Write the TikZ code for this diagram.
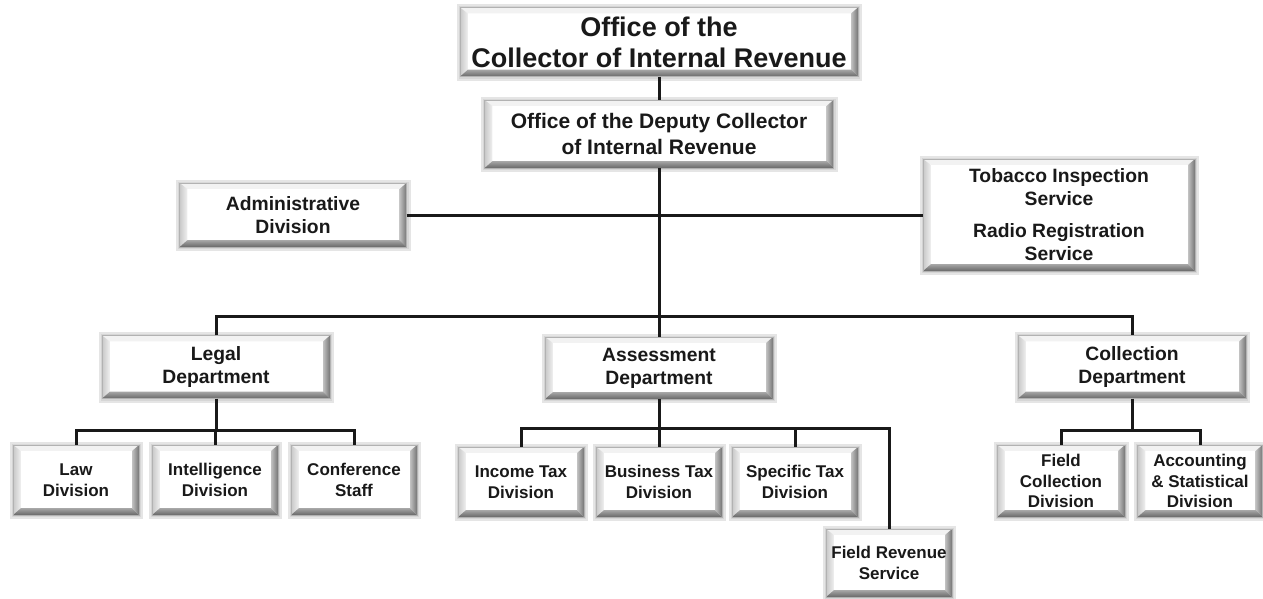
\documentclass[tikz,border=0pt]{standalone}
\usepackage{fontspec}
\setmainfont{Liberation Sans}
\usetikzlibrary{calc}
\pgfdeclarelayer{bg}
\pgfsetlayers{bg,main}
\newcommand{\bevedge}[1]{%
  \begin{pgfonlayer}{bg}
    \fill[black!10] ($(#1.north west)+(-3,-3)$) rectangle ($(#1.south east)+(4,4)$);
    \fill[black!16] ($(#1.north west)+(-1,-1)$) rectangle ($(#1.south east)+(2,2)$);
    \fill[white] (#1.north west) rectangle (#1.south east);
    \fill[black!5] (#1.north west) -- (#1.north east) -- ($(#1.north east)+(-7,6)$) -- ($(#1.north west)+(8,6)$) -- cycle;
    \shade[left color=black!22, right color=black!6] (#1.north west) -- ($(#1.north west)+(8,6)$) -- ($(#1.south west)+(8,-7)$) -- (#1.south west) -- cycle;
    \shade[left color=black!25, right color=black!55] (#1.north east) -- (#1.south east) -- ($(#1.south east)+(-7,-7)$) -- ($(#1.north east)+(-7,6)$) -- cycle;
    \shade[top color=black!35, bottom color=black!60] (#1.south west) -- (#1.south east) -- ($(#1.south east)+(-7,-7)$) -- ($(#1.south west)+(8,-7)$) -- cycle;
    \draw[black!30, line width=0.5pt] (#1.north west) rectangle (#1.south east);
  \end{pgfonlayer}
}
\begin{document}
\begin{tikzpicture}[x=1pt, y=-1pt,
  box/.style={draw=none, inner sep=0pt, align=center, text=black!90},
  ftop/.style={font=\bfseries\fontsize{27}{31}\selectfont},
  fdep/.style={font=\bfseries\fontsize{21}{26}\selectfont},
  fmid/.style={font=\bfseries\fontsize{19.3}{23}\selectfont},
  fbot/.style={font=\bfseries\fontsize{17}{20.5}\selectfont},
  conn/.style={line width=3pt, black!90}
]
\useasboundingbox (0,0) rectangle (1263,598);
\begin{pgfonlayer}{bg}
\fill[white] (0,0) rectangle (1263,598);
\end{pgfonlayer}

% nodes
\node[box, ftop, minimum width=398pt, minimum height=69pt] (top) at (659,42) {Office of the\\Collector of Internal Revenue};
\node[box, fdep, minimum width=349pt, minimum height=68pt] (dep) at (659,134) {Office of the Deputy Collector\\of Internal Revenue};
\node[box, fmid, minimum width=227pt, minimum height=64pt] (adm) at (293,215) {Administrative\\Division};
\node[box, fmid, minimum width=272pt, minimum height=112pt] (tob) at (1059,215) {Tobacco Inspection\\Service\\[9pt]Radio Registration\\Service};
\node[box, fmid, minimum width=228pt, minimum height=63pt] (legal) at (216,367) {Legal\\Department};
\node[box, fmid, minimum width=228pt, minimum height=62pt] (assess) at (659,368) {Assessment\\Department};
\node[box, fmid, minimum width=228pt, minimum height=63pt] (coll) at (1132,367) {Collection\\Department};

\node[box, fbot, minimum width=126pt, minimum height=70pt] (law) at (76,480) {Law\\Division};
\node[box, fbot, minimum width=126pt, minimum height=70pt] (intel) at (215,480) {Intelligence\\Division};
\node[box, fbot, minimum width=126pt, minimum height=70pt] (conf) at (354,480) {Conference\\Staff};

\node[box, fbot, minimum width=126pt, minimum height=70pt] (inc) at (521,482) {Income Tax\\Division};
\node[box, fbot, minimum width=126pt, minimum height=70pt] (bus) at (659,482) {Business Tax\\Division};
\node[box, fbot, minimum width=126pt, minimum height=70pt] (spec) at (795,482) {Specific Tax\\Division};
\node[box, fbot, minimum width=126pt, minimum height=68pt] (frs) at (889,563) {Field Revenue\\Service};

\node[box, fbot, minimum width=128pt, minimum height=72pt] (fcd) at (1061,481) {Field\\Collection\\Division};
\node[box, fbot, minimum width=125pt, minimum height=72pt] (acc) at (1200,481) {Accounting\\\& Statistical\\Division};

\foreach \n in {top,dep,adm,tob,legal,assess,coll,law,intel,conf,inc,bus,spec,frs,fcd,acc} {\bevedge{\n}}

% coordinates of buses
\coordinate (busA) at (0,316);
\coordinate (busL) at (0,430);
\coordinate (busM) at (0,428);
\coordinate (busC) at (0,430);

% connectors
\draw[conn] (top.south) -- (dep.north);
\draw[conn] (dep.south) -- (assess.north);
\draw[conn] (adm.east) -- (adm.east -| tob.west);
\draw[conn] (legal.north) -- (legal.north |- busA) -- (coll.north |- busA) -- (coll.north);

\draw[conn] (legal.south) -- (legal.south |- busL);
\draw[conn] (law.north) -- (law.north |- busL) -- (conf.north |- busL) -- (conf.north);
\draw[conn] (intel.north) -- (intel.north |- busL);

\draw[conn] (assess.south) -- (assess.south |- busM);
\draw[conn] (inc.north) -- (inc.north |- busM) -- (frs.north |- busM) -- (frs.north);
\draw[conn] (bus.north) -- (bus.north |- busM);
\draw[conn] (spec.north) -- (spec.north |- busM);

\draw[conn] (coll.south) -- (coll.south |- busC);
\draw[conn] (fcd.north) -- (fcd.north |- busC) -- (acc.north |- busC) -- (acc.north);
\end{tikzpicture}
\end{document}
